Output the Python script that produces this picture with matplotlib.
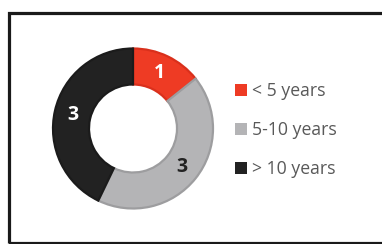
import numpy as np
import matplotlib.pyplot as plt
from matplotlib.patches import Rectangle

# data
labels = ["< 5 years", "5-10 years", "> 10 years"]
counts = [1, 3, 3]
colors = ["#ee3b24", "#b4b4b6", "#222222"]
edge_colors = ["#d9301c", "#9d9d9f", "#1b1b1b"]
label_colors = ["white", "#222222", "white"]

W, H = 382, 244
fig = plt.figure(figsize=(W / 100, H / 100), dpi=100)

# donut centre / radius in pixels
cx, cy, R = 133, 128.5, 80
ax = fig.add_axes([(cx - R) / W, (H - cy - R) / H, 2 * R / W, 2 * R / H])

wedges, texts = ax.pie(
    counts,
    colors=colors,
    startangle=90,
    counterclock=False,
    radius=1,
    wedgeprops=dict(width=0.45, linewidth=1.6),
)
for w, ec in zip(wedges, edge_colors):
    w.set_edgecolor(ec)

# value labels in the middle of the ring
total = sum(counts)
start = 0
for val, col in zip(counts, label_colors):
    mid = np.deg2rad(90 - (start + val / 2) / total * 360)
    r = 0.775
    ax.text(r * np.cos(mid), r * np.sin(mid), str(val), ha="center", va="center",
            fontsize=14, fontweight="bold", color=col, family="Open Sans")
    start += val
ax.set_xlim(-1, 1)
ax.set_ylim(-1, 1)
ax.set_aspect("equal")
ax.axis("off")

leg = fig.legend(
    wedges, labels,
    loc="center left",
    bbox_to_anchor=(219 / W, 1 - 130 / H),
    frameon=False,
    handlelength=0.68,
    handleheight=0.68,
    handletextpad=0.28,
    labelspacing=1.2,
    prop=dict(family="Open Sans", size=12.7),
)
for t in leg.get_texts():
    t.set_color("#595959")
for h in leg.legend_handles:
    h.set_linewidth(0)

# frame around the chart (right side is cut off)
fig.patches.append(Rectangle((8.5 / W, 1.5 / H), 1.2, (H - 14) / H,
                             transform=fig.transFigure, fill=False,
                             edgecolor="#1a1a1a", linewidth=2.3, clip_on=False))

fig.savefig("out.png", dpi=100)
